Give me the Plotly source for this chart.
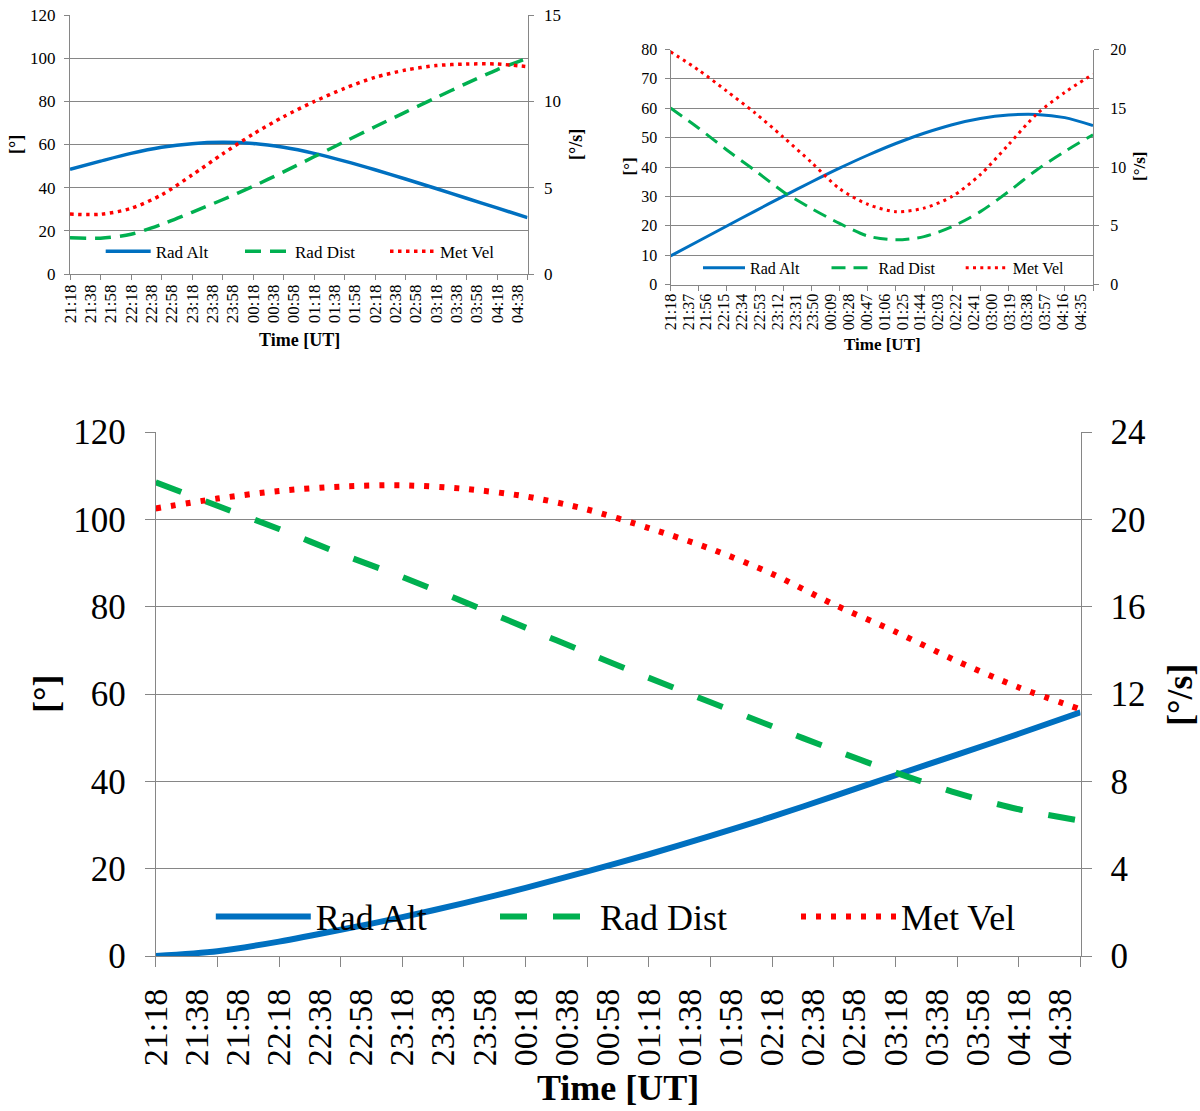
import plotly.graph_objects as go

W, H = 1200, 1111
FONT = "Liberation Serif, Times New Roman, serif"
GRID = "#868686"
BLUE, GREEN, RED = "#0070C0", "#00B050", "#FF0000"


def to_min(hhmm):
    """Minutes elapsed since 21:18 UT (wrapping past midnight)."""
    h, m = map(int, hhmm.split(":"))
    v = h * 60 + m - (21 * 60 + 18)
    return v + 1440 if v < 0 else v


# ---- sample times (every 30 min) -------------------------------------------
sample_times = ["21:18", "21:48", "22:18", "22:48", "23:18", "23:48", "00:18", "00:48",
                "01:18", "01:48", "02:18", "02:48", "03:18", "03:48", "04:18", "04:48"]

# ---- category labels -------------------------------------------------------
labels_20 = ["21:18", "21:38", "21:58", "22:18", "22:38", "22:58", "23:18", "23:38",
             "23:58", "00:18", "00:38", "00:58", "01:18", "01:38", "01:58", "02:18",
             "02:38", "02:58", "03:18", "03:38", "03:58", "04:18", "04:38"]
labels_19 = ["21:18", "21:37", "21:56", "22:15", "22:34", "22:53", "23:12", "23:31",
             "23:50", "00:09", "00:28", "00:47", "01:06", "01:25", "01:44", "02:03",
             "02:22", "02:41", "03:00", "03:19", "03:38", "03:57", "04:16", "04:35"]

# ---- panel A (upper left) --------------------------------------------------
rad_alt_a = [48.5, 52.3, 55.9, 58.7, 60.4, 61.0, 60.5, 58.7, 55.9, 52.3, 48.3, 44.0, 39.6, 35.1, 30.6, 26.1]
rad_dist_a = [16.8, 16.6, 18.4, 23.0, 28.6, 34.4, 40.6, 47.3, 54.3, 61.3, 68.2, 75.0, 81.7, 88.3, 94.6, 100.0]
met_vel_a = [3.47, 3.46, 3.8, 4.58, 5.73, 6.95, 8.1, 9.11, 9.98, 10.75, 11.39, 11.81, 12.07, 12.16, 12.16, 12.01]

# ---- panel B (upper right) -------------------------------------------------
rad_alt_b = [9.7, 14.8, 19.9, 25.0, 30.0, 34.9, 39.6, 44.0, 48.0, 51.5, 54.4, 56.5, 57.7, 57.9, 56.8, 54.1]
rad_dist_b = [60.1, 53.2, 45.8, 38.8, 31.6, 25.9, 20.8, 16.5, 15.2, 16.3, 19.7, 24.8, 31.6, 39.0, 45.3, 51.0]
met_vel_b = [19.8, 18.25, 16.45, 14.6, 12.55, 10.4, 8.15, 6.83, 6.2, 6.5, 7.5, 9.35, 11.9, 14.5, 16.35, 17.9]

# ---- panel C (bottom) ------------------------------------------------------
rad_alt_c = [0.0, 1.1, 3.3, 6.0, 8.9, 12.1, 15.6, 19.4, 23.3, 27.5, 31.9, 36.6, 41.4, 46.1, 50.9, 55.8]
rad_dist_c = [108.5, 103.1, 97.8, 92.1, 86.8, 81.1, 75.2, 69.4, 63.7, 58.1, 52.6, 47.2, 42.0, 37.3, 33.6, 31.0]
met_vel_c = [20.5, 20.95, 21.3, 21.5, 21.56, 21.4, 21.05, 20.45, 19.6, 18.65, 17.5, 16.1, 14.85, 13.5, 12.3, 11.3]

t = [to_min(s) for s in sample_times]
X_RANGE = [0, 450]


def px_x(p):
    return p / W


def px_y(p):
    return 1 - p / H


fig = go.Figure()

# panel definitions: pixel box, axis ids, ranges, styles
panels = [
    dict(box=(70, 527.5, 15, 274), ax=("x", "x2", "y", "y2"),
         yl=(120, 20), yr=(15, 5), labels=labels_20, series=(rad_alt_a, rad_dist_a, met_vel_a),
         fs=17, xfs=17, lfs=17, lw=3.5, dash="16px,9px", dot="3.5px,4.5px", tick=5,
         ystand=(5, 7), xstand=6,
         legends=[("legend", 100.7, 251.7), ("legend2", 240, 251.7), ("legend3", 385, 251.7)], iw=45,
         titles=dict(time=(299, 340), left=(16, 145), right=(576, 145))),
    dict(box=(670.5, 1093, 49.5, 284.5), ax=("x3", "x4", "y3", "y4"),
         yl=(80, 10), yr=(20, 5), labels=labels_19, series=(rad_alt_b, rad_dist_b, met_vel_b),
         fs=16, xfs=16, lfs=16, lw=3, dash="14px,8px", dot="3px,4.3px", tick=5,
         ystand=(4, 8), xstand=5,
         legends=[("legend4", 698, 267.8), ("legend5", 826.5, 267.8), ("legend6", 960.7, 267.8)], iw=42,
         titles=dict(time=(882, 344), left=(629.5, 167), right=(1140, 167))),
    dict(box=(155.7, 1080.5, 432, 956), ax=("x5", "x6", "y5", "y6"),
         yl=(120, 20), yr=(24, 4), labels=labels_20, series=(rad_alt_c, rad_dist_c, met_vel_c),
         fs=35, xfs=34, lfs=36, lw=6, dash="27px,26px", dot="5px,10px", tick=10,
         ystand=(12, 12), xstand=25,
         legends=[("legend7", 210.8, 916.5), ("legend8", 495, 916.5), ("legend9", 796, 916.5)], iw=95,
         titles=dict(time=(618, 1088), left=(46, 694), right=(1180, 695))),
]

names = ["Rad Alt", "Rad Dist", "Met Vel"]
layout = dict(width=W, height=H, margin=dict(l=0, r=0, t=0, b=0, pad=0),
              paper_bgcolor="white", plot_bgcolor="white", showlegend=True,
              font=dict(family=FONT, color="black"))
annotations = []


def key(a):
    return a[0] + "axis" + a[1:]


for p in panels:
    x0, x1, y0, y1 = p["box"]
    xd, xl, yl_id, yr_id = p["ax"]
    xdom = [px_x(x0), px_x(x1)]
    ydom = [px_y(y1), px_y(y0)]
    fs = p["fs"]
    tick_font = dict(family=FONT, size=fs, color="black")
    label_vals = [to_min(s) for s in p["labels"]]

    # data axis: carries the tick marks every 30 min
    layout[key(xd)] = dict(domain=xdom, anchor=yl_id, range=X_RANGE, tickmode="array",
                           tickvals=t, ticks="outside", ticklen=p["tick"], tickcolor=GRID,
                           tickwidth=1, showticklabels=False, showline=True, linecolor=GRID,
                           linewidth=1, showgrid=False, zeroline=False, fixedrange=True,
                           automargin=False)
    # label axis: carries the time labels
    layout[key(xl)] = dict(overlaying=xd, anchor=yl_id, side="bottom", range=X_RANGE,
                           tickmode="array", tickvals=label_vals,
                           ticktext=p["labels"], ticks="", tickangle=-90,
                           tickfont=dict(family=FONT, size=p["xfs"], color="black"),
                           ticklabelstandoff=p["xstand"], showline=False, showgrid=False,
                           zeroline=False, fixedrange=True, automargin=False)
    layout[key(yl_id)] = dict(domain=ydom, anchor=xd, range=[0, p["yl"][0]], dtick=p["yl"][1],
                              tick0=0, ticks="outside", ticklen=p["tick"], tickcolor=GRID,
                              tickwidth=1, showline=True, linecolor=GRID, linewidth=1,
                              showgrid=True, gridcolor=GRID, gridwidth=1, zeroline=False,
                              tickfont=tick_font, ticklabelstandoff=p["ystand"][0],
                              fixedrange=True, automargin=False)
    layout[key(yr_id)] = dict(overlaying=yl_id, anchor=xd, side="right",
                              range=[0, p["yr"][0]], dtick=p["yr"][1], tick0=0,
                              ticks="outside", ticklen=p["tick"], tickcolor=GRID, tickwidth=1,
                              showline=True, linecolor=GRID, linewidth=1, showgrid=False,
                              zeroline=False, tickfont=tick_font,
                              ticklabelstandoff=p["ystand"][1], fixedrange=True,
                              automargin=False)

    # empty trace so the label axis is rendered
    fig.add_trace(go.Scatter(x=[label_vals[0]], y=[None], mode="lines", showlegend=False,
                             xaxis=xl, yaxis=yl_id, hoverinfo="skip"))

    alt, dist, vel = p["series"]
    styles = [dict(color=BLUE, width=p["lw"], dash="solid"),
              dict(color=GREEN, width=p["lw"], dash=p["dash"]),
              dict(color=RED, width=p["lw"], dash=p["dot"])]
    for (lg, lx, ly), name, ys, st, ya in zip(p["legends"], names, (alt, dist, vel), styles,
                                              (yl_id, yl_id, yr_id)):
        fig.add_trace(go.Scatter(x=t, y=ys, name=name, mode="lines",
                                 line=dict(shape="spline", smoothing=0.8, **st),
                                 xaxis=xd, yaxis=ya, legend=lg, hoverinfo="skip"))
        layout[lg] = dict(x=px_x(lx), y=px_y(ly), xanchor="left", yanchor="middle",
                          orientation="h", bgcolor="rgba(0,0,0,0)", borderwidth=0,
                          itemwidth=p["iw"], font=dict(family=FONT, size=p["lfs"], color="black"),
                          itemclick=False, itemdoubleclick=False)

    tt = p["titles"]
    bold = dict(family=FONT, size=fs + 1, color="black", weight="bold")
    annotations.append(dict(text="Time [UT]", x=px_x(tt["time"][0]), y=px_y(tt["time"][1]),
                            xref="paper", yref="paper", xanchor="center", yanchor="middle",
                            showarrow=False, font=bold))
    annotations.append(dict(text="[°]", x=px_x(tt["left"][0]), y=px_y(tt["left"][1]),
                            xref="paper", yref="paper", xanchor="center", yanchor="middle",
                            textangle=-90, showarrow=False, font=bold))
    annotations.append(dict(text="[°/s]", x=px_x(tt["right"][0]), y=px_y(tt["right"][1]),
                            xref="paper", yref="paper", xanchor="center", yanchor="middle",
                            textangle=-90, showarrow=False, font=bold))

layout["annotations"] = annotations
fig.update_layout(**layout)
fig.write_html("out.html")
